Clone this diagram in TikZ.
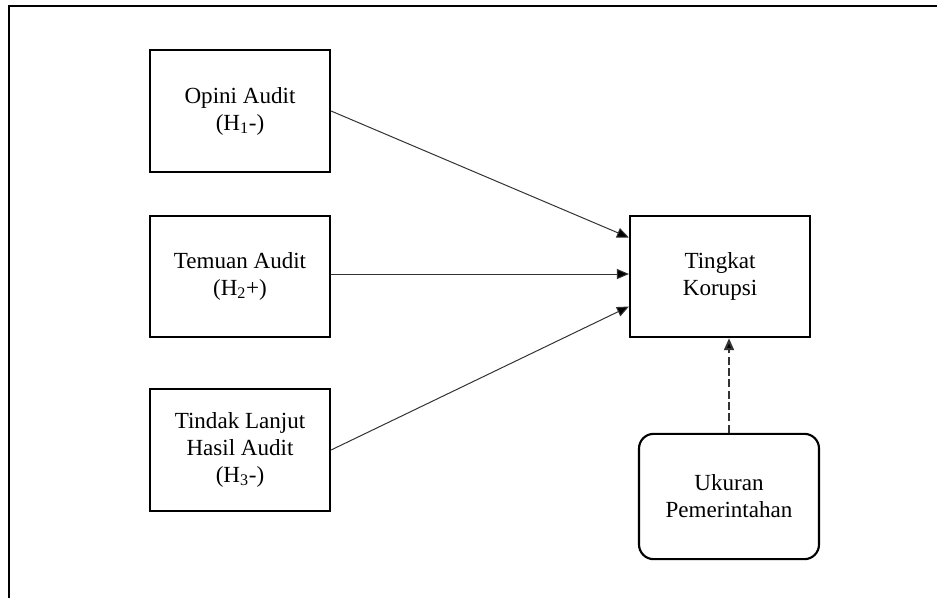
\documentclass[tikz,border=0pt]{standalone}
\usepackage{fontspec}
\setmainfont{Liberation Serif}
\usetikzlibrary{arrows.meta,positioning,calc}

\begin{document}
\begin{tikzpicture}[
    x=0.75pt, y=-0.75pt,
    varbox/.style={rectangle, draw, line width=1.6pt, minimum width=135pt,
                   minimum height=91pt, align=center, inner sep=4pt,
                   font=\fontsize{17.3}{20.2}\selectfont},
    modbox/.style={varbox, rounded corners=11pt, minimum height=94pt},
    link/.style={line width=0.75pt, draw=black!80,
                 -{Triangle[length=9pt, width=7.5pt, fill=black]}}
  ]

  % ---- Canvas and frame ----
  \useasboundingbox (0,0) rectangle (937,597);
  \draw[line width=1.9pt] (9,610) -- (9,6) -- (950,6);

  % ============ LEFT: independent variables ============
  \node[varbox] (OA) at (240,111)   {Opini Audit\\(H\textsubscript{1}-)};
  \node[varbox] (TA) at (240,276.5) {Temuan Audit\\(H\textsubscript{2}+)};
  \node[varbox] (TL) at (240,450)   {Tindak Lanjut\\Hasil Audit\\(H\textsubscript{3}-)};

  % ============ RIGHT: dependent and moderating ============
  \node[varbox] (TK) at (720,276.5) {Tingkat\\Korupsi};
  \node[modbox] (UP) at (729,496.5) {Ukuran\\Pemerintahan};

  % Arrows into Tingkat Korupsi
  \coordinate (TKa) at ($(TK.west)+(0,-39)$);
  \coordinate (TKb) at ($(TK.west)+(0,-2.5)$);
  \coordinate (TKc) at ($(TK.west)+(0,30)$);
  \draw[link] (OA.east) -- (TKa);
  \draw[link] (TA.east |- TKb) -- (TKb);
  \draw[link] (TL.east) -- (TKc);

  % Moderating effect (dashed)
  \draw[link, line width=1.5pt, dash pattern=on 6pt off 2.5pt]
    (UP.north) -- (UP.north |- TK.south);

\end{tikzpicture}
\end{document}
